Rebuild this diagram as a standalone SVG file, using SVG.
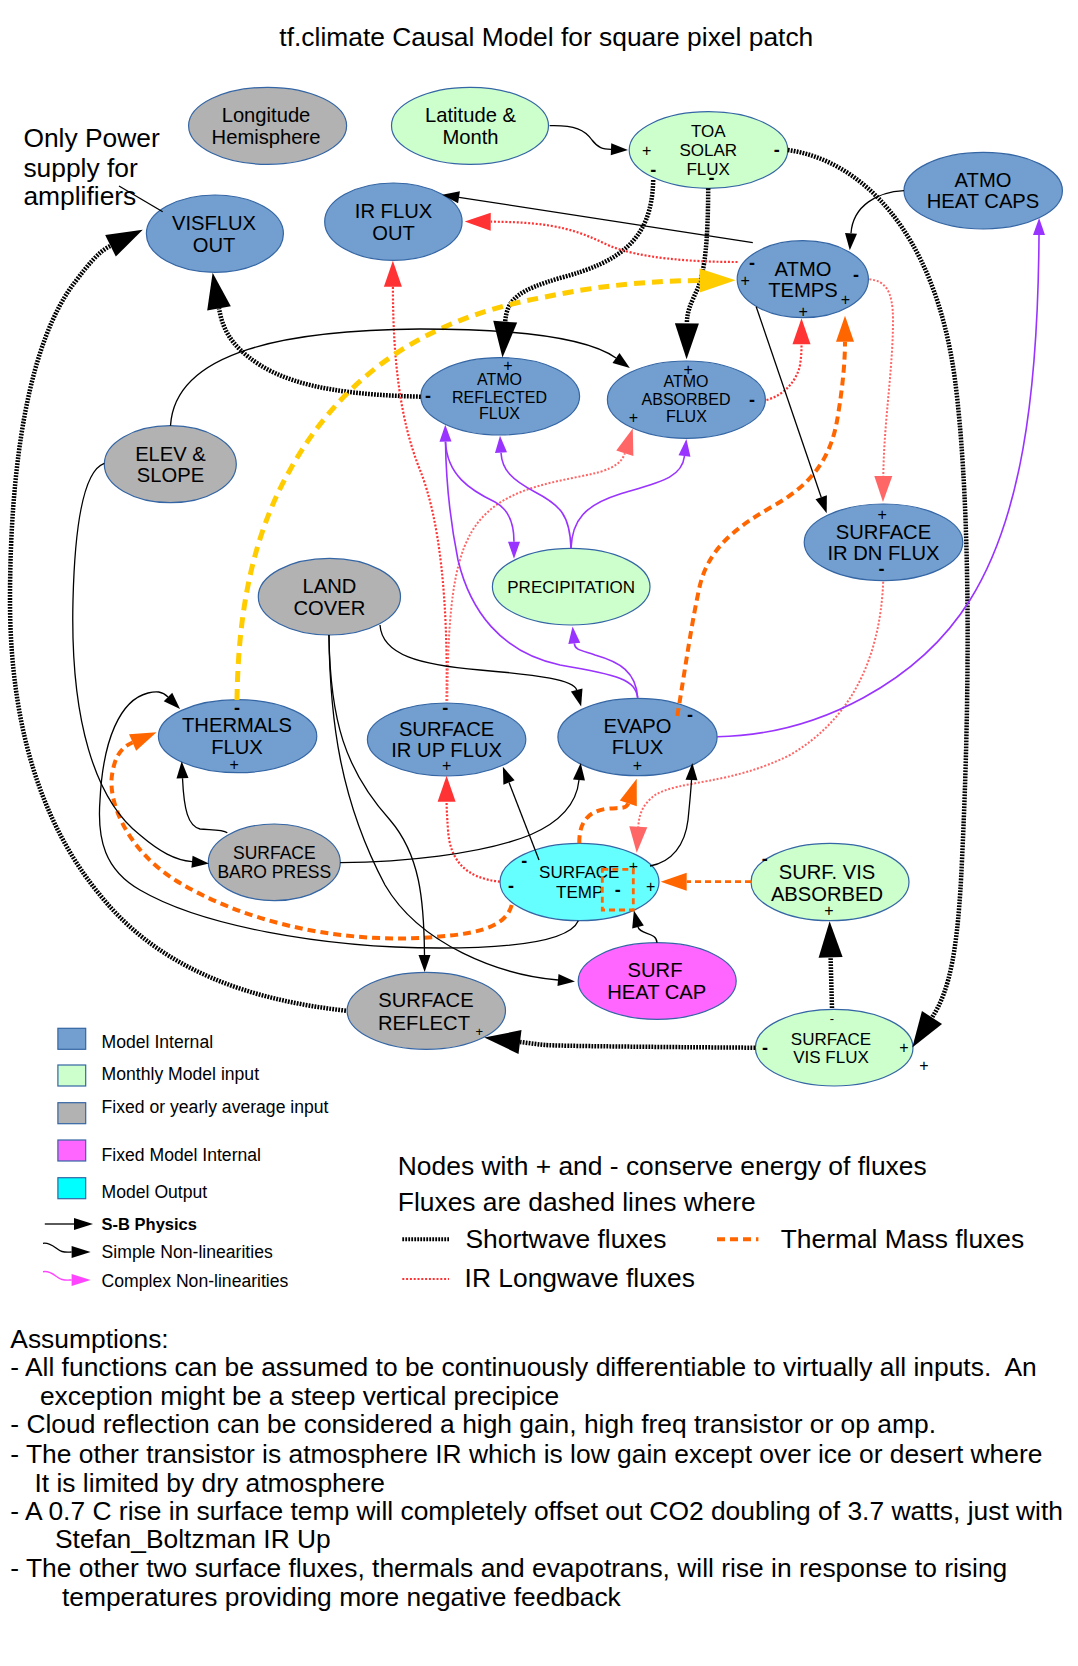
<svg xmlns="http://www.w3.org/2000/svg" width="1078" height="1666" viewBox="0 0 1078 1666">
<style>
text{font-family:"Liberation Sans",Arial,sans-serif;fill:#000}
.n20{font-size:20.2px;text-anchor:middle}
.n17{font-size:17px;text-anchor:middle}
.n16{font-size:16px;text-anchor:middle}
.p{font-size:16px;text-anchor:middle}
.ps{font-size:13px;text-anchor:middle}
.m{font-size:18px;font-weight:bold;text-anchor:middle}
.blue{fill:#729fcf;stroke:#3465a4;stroke-width:1.2}
.green{fill:#ccffcc;stroke:#3465a4;stroke-width:1.2}
.gray{fill:#b2b2b2;stroke:#3465a4;stroke-width:1.2}
.mag{fill:#ff66ff;stroke:#3465a4;stroke-width:1.2}
.cyan{fill:#66ffff;stroke:#3465a4;stroke-width:1.2}
.sw{fill:none;stroke:#000;stroke-width:4.5;stroke-dasharray:1.8 1.2}
.ir{fill:none;stroke:#ff3333;stroke-width:2.2;stroke-dasharray:2 1.8}
.irl{fill:none;stroke:#ff6666;stroke-width:2;stroke-dasharray:2 1.8}
.tm{fill:none;stroke:#ff6600;stroke-width:4;stroke-dasharray:8 5}
.tm2{fill:none;stroke:#ff6600;stroke-width:2.8;stroke-dasharray:6 4}
.yl{fill:none;stroke:#ffcc00;stroke-width:5;stroke-dasharray:11 7}
.sb{fill:none;stroke:#000;stroke-width:1.3}
.pu{fill:none;stroke:#9933ff;stroke-width:1.6}
.mg{fill:none;stroke:#ff44ff;stroke-width:1.4}
.big{font-size:26.4px}
.leg{font-size:17.6px}
</style>
<defs>
<marker id="mSw" markerUnits="userSpaceOnUse" markerWidth="36" markerHeight="24" refX="0" refY="12" orient="auto" overflow="visible"><path d="M0,0 L36,12 L0,24 z" fill="#000"/></marker>
<marker id="mRed" markerUnits="userSpaceOnUse" markerWidth="26" markerHeight="18" refX="0" refY="9" orient="auto" overflow="visible"><path d="M0,0 L26,9 L0,18 z" fill="#ff3333"/></marker>
<marker id="mSal" markerUnits="userSpaceOnUse" markerWidth="26" markerHeight="18" refX="0" refY="9" orient="auto" overflow="visible"><path d="M0,0 L26,9 L0,18 z" fill="#ff6666"/></marker>
<marker id="mOr" markerUnits="userSpaceOnUse" markerWidth="26" markerHeight="18" refX="0" refY="9" orient="auto" overflow="visible"><path d="M0,0 L26,9 L0,18 z" fill="#ff6600"/></marker>
<marker id="mYel" markerUnits="userSpaceOnUse" markerWidth="36" markerHeight="24" refX="0" refY="12" orient="auto" overflow="visible"><path d="M0,0 L36,12 L0,24 z" fill="#ffcc00"/></marker>
<marker id="mBlk" markerUnits="userSpaceOnUse" markerWidth="17" markerHeight="12" refX="0" refY="6" orient="auto" overflow="visible"><path d="M0,0 L17,6 L0,12 z" fill="#000"/></marker>
<marker id="mPur" markerUnits="userSpaceOnUse" markerWidth="17" markerHeight="12" refX="0" refY="6" orient="auto" overflow="visible"><path d="M0,0 L17,6 L0,12 z" fill="#9933ff"/></marker>
<marker id="mBlkL" markerUnits="userSpaceOnUse" markerWidth="19" markerHeight="12" refX="0" refY="6" orient="auto" overflow="visible"><path d="M0,0 L19,6 L0,12 z" fill="#000"/></marker>
<marker id="mMag" markerUnits="userSpaceOnUse" markerWidth="19" markerHeight="12" refX="0" refY="6" orient="auto" overflow="visible"><path d="M0,0 L19,6 L0,12 z" fill="#ff44ff"/></marker>
</defs>
<rect width="1078" height="1666" fill="#fff"/>
<text class="big" x="546.3" y="46" text-anchor="middle">tf.climate Causal Model for square pixel patch</text>
<g id="note-power">
<text class="big" x="23.4" y="147.3">Only Power</text>
<text class="big" x="23.4" y="176.7">supply for</text>
<text class="big" x="23.4" y="205">amplifiers</text>
</g>

<g id="n-longitude"><ellipse class="gray" cx="267.6" cy="125.8" rx="79" ry="38.5"/><text class="n20" x="266" y="121.7">Longitude</text><text class="n20" x="266" y="144.3">Hemisphere</text></g>
<g id="n-latitude"><ellipse class="green" cx="470" cy="125.8" rx="78.5" ry="38.5"/><text class="n20" x="470.5" y="121.7">Latitude &amp;</text><text class="n20" x="470.5" y="144.3">Month</text></g>
<g id="n-toa"><ellipse class="green" cx="708.5" cy="150" rx="79.3" ry="38.3"/><text class="n17" x="708.2" y="137">TOA</text><text class="n17" x="708.2" y="156">SOLAR</text><text class="n17" x="708.2" y="175">FLUX</text>
<text class="p" x="646.7" y="155.5">+</text><text class="m" x="776.8" y="156">-</text><text class="m" x="653.2" y="175.5">-</text><text class="m" x="711.6" y="183.8">-</text></g>
<g id="n-atmo-heat-caps"><ellipse class="blue" cx="983.2" cy="190.7" rx="79.2" ry="38.3"/><text class="n20" x="983" y="186.5">ATMO</text><text class="n20" x="983" y="208">HEAT CAPS</text></g>
<g id="n-visflux-out"><ellipse class="blue" cx="214.9" cy="233.7" rx="68.5" ry="38.7"/><text class="n20" x="214" y="229.5">VISFLUX</text><text class="n20" x="214" y="251.5">OUT</text></g>
<g id="n-ir-flux-out"><ellipse class="blue" cx="393.4" cy="221.7" rx="68.7" ry="38.7"/><text class="n20" x="393.5" y="218">IR FLUX</text><text class="n20" x="393.5" y="240">OUT</text></g>
<g id="n-atmo-temps"><ellipse class="blue" cx="802.8" cy="279.2" rx="65.6" ry="38.5"/><text class="n20" x="803" y="275.5">ATMO</text><text class="n20" x="803" y="297">TEMPS</text>
<text class="m" x="752" y="268.7">-</text><text class="p" x="745.2" y="285.5">+</text><text class="m" x="856" y="281">-</text><text class="p" x="845.5" y="305">+</text><text class="p" x="803.2" y="317.2">+</text></g>
<g id="n-atmo-reflected"><ellipse class="blue" cx="500.2" cy="396.3" rx="79.4" ry="38.7"/><text class="n16" x="499.5" y="384.5">ATMO</text><text class="n16" x="499.5" y="402.5">REFLECTED</text><text class="n16" x="499.5" y="419">FLUX</text>
<text class="p" x="508" y="370.5">+</text><text class="m" x="428" y="402.1">-</text></g>
<g id="n-atmo-absorbed"><ellipse class="blue" cx="686.4" cy="399.7" rx="79" ry="38.7"/><text class="n16" x="686" y="387">ATMO</text><text class="n16" x="686" y="404.5">ABSORBED</text><text class="n16" x="686.4" y="422">FLUX</text>
<text class="p" x="688.2" y="374.8">+</text><text class="p" x="633.3" y="423.2">+</text><text class="m" x="752" y="406.1">-</text></g>
<g id="n-elev-slope"><ellipse class="gray" cx="170.3" cy="464.2" rx="66" ry="38.5"/><text class="n20" x="170.5" y="460.5">ELEV &amp;</text><text class="n20" x="170.5" y="482">SLOPE</text></g>
<g id="n-surface-ir-dn"><ellipse class="blue" cx="883.5" cy="542.3" rx="79.3" ry="38.3"/><text class="n20" x="883.5" y="539">SURFACE</text><text class="n20" x="883.5" y="560">IR DN FLUX</text>
<text class="p" x="882.2" y="519.8">+</text><text class="m" x="881.5" y="575.4">-</text></g>
<g id="n-precipitation"><ellipse class="green" cx="571.2" cy="586.7" rx="78.8" ry="38.3"/><text class="n17" x="571.2" y="593.3">PRECIPITATION</text></g>
<g id="n-land-cover"><ellipse class="gray" cx="329.4" cy="596.7" rx="71.1" ry="38.3"/><text class="n20" x="329.4" y="593">LAND</text><text class="n20" x="329.4" y="615">COVER</text></g>
<g id="n-thermals"><ellipse class="blue" cx="237.6" cy="736.2" rx="79.2" ry="36.5"/><text class="n20" x="237" y="731.5">THERMALS</text><text class="n20" x="237" y="754">FLUX</text>
<text class="m" x="237" y="713.7">-</text><text class="p" x="234.2" y="769.5">+</text></g>
<g id="n-surface-ir-up"><ellipse class="blue" cx="446.6" cy="739.5" rx="79.2" ry="36.5"/><text class="n20" x="446.6" y="735.5">SURFACE</text><text class="n20" x="446.6" y="757">IR UP FLUX</text>
<text class="m" x="445.2" y="713.7">-</text><text class="p" x="446.6" y="771.2">+</text></g>
<g id="n-evapo"><ellipse class="blue" cx="637.5" cy="737" rx="79.6" ry="38.7"/><text class="n20" x="637.5" y="733">EVAPO</text><text class="n20" x="637.5" y="754">FLUX</text>
<text class="m" x="690" y="721.4">-</text><text class="p" x="637.5" y="770.5">+</text></g>
<g id="n-baro"><ellipse class="gray" cx="274.3" cy="862.3" rx="66" ry="38.3"/><text class="n17" x="274.3" y="859" style="font-size:17.5px">SURFACE</text><text class="n17" x="274.3" y="878" style="font-size:17.5px">BARO PRESS</text></g>
<g id="n-surface-temp"><ellipse class="cyan" cx="579.5" cy="882" rx="79.5" ry="38.7"/><text class="n17" x="579.2" y="877.7">SURFACE</text><text class="n17" x="579.7" y="898.3">TEMP</text>
<text class="m" x="524.3" y="867.1">-</text><text class="m" x="511" y="892.1">-</text><text class="p" x="633.3" y="871.5">+</text><text class="m" x="617.7" y="896.1">-</text><text class="p" x="650.7" y="892.2">+</text></g>
<g id="n-surf-vis-absorbed"><ellipse class="green" cx="830" cy="882" rx="79" ry="38.7"/><text class="n20" x="827" y="878.5">SURF. VIS</text><text class="n20" x="827" y="900.5">ABSORBED</text>
<text class="m" x="764.8" y="865.4">-</text><text class="p" x="828.8" y="916.2">+</text></g>
<g id="n-surf-heat-cap"><ellipse class="mag" cx="657.2" cy="981" rx="79" ry="38.3"/><text class="n20" x="655" y="976.5">SURF</text><text class="n20" x="656.7" y="999">HEAT CAP</text></g>
<g id="n-surface-reflect"><ellipse class="gray" cx="426.3" cy="1010.8" rx="79.2" ry="38.5"/><text class="n20" x="426" y="1006.5">SURFACE</text><text class="n20" x="424" y="1030">REFLECT</text>
<text class="ps" x="479.3" y="1036.2">+</text></g>
<g id="n-surface-vis-flux"><ellipse class="green" cx="834.2" cy="1047.7" rx="78.8" ry="38.3"/><text class="n17" x="831" y="1044.5">SURFACE</text><text class="n17" x="831" y="1063">VIS FLUX</text>
<text class="ps" x="832" y="1022.5">-</text><text class="m" x="765.1" y="1053.7">-</text><text class="p" x="904" y="1053.2">+</text><text class="p" x="924" y="1070.5">+</text></g>

<g id="connectors">
<path class="sw" d="M787.8,150 C860,160 935,230 955,380 C968,480 972,650 962,860 C958,950 950,990 932,1017.5" marker-end="url(#mSw)"/>
<path class="sw" d="M653.2,180 C652,240 620,262 560,278 C520,290 507,298 505.2,321.7" marker-end="url(#mSw)"/>
<path class="sw" d="M708.2,188.3 C708,240 705,270 698,288 C690,305 687,312 686.9,323.3" marker-end="url(#mSw)"/>
<path class="sw" d="M420.8,396.7 C360,395 300,390 260,365 C228,345 222,325 219,308.3" marker-end="url(#mSw)"/>
<path class="sw" d="M346,1010.7 C250,1000 160,970 100,895 C30,810 10,700 10,600 C10,460 30,340 75,282 C88,265 98,252 110.5,245.8" marker-end="url(#mSw)"/>
<path class="sw" d="M755.3,1047.7 C650,1047 560,1046 545,1045 C535,1044 528,1043 520,1042" marker-end="url(#mSw)"/>
<path class="sw" d="M832,1008 L830.6,957.3" marker-end="url(#mSw)"/>
<path class="ir" d="M737.5,262 C690,262 640,258 610,246 C580,232 560,222 490.7,221.7" marker-end="url(#mRed)"/>
<path class="ir" d="M446.6,701 C448,600 440,520 420,470 C400,420 393,360 392.9,286.7" marker-end="url(#mRed)"/>
<path class="ir" d="M500,881.7 C465,878 450,860 448,830 C447,815 446.6,808 446.6,801.7" marker-end="url(#mRed)"/>
<path class="ir" d="M766.5,400 C785,395 797,380 800,365 C801.5,355 801.5,350 801.5,344.3" marker-end="url(#mRed)"/>
<path class="irl" d="M869.3,279.3 C885,281 893,290 893,320 C893,370 884,420 883.3,476" marker-end="url(#mSal)"/>
<path class="irl" d="M883.2,581.7 C880,660 850,720 790,755 C730,785 680,780 655,795 C642,805 639,815 638.3,826.7" marker-end="url(#mSal)"/>
<path class="irl" d="M447.3,701 C448,600 455,550 480,520 C510,485 560,482 600,472 C615,467 622,462 624.8,453.3" marker-end="url(#mSal)"/>
<path class="tm" d="M677.3,716 C685,670 692,620 700,585 C710,545 740,525 775,505 C815,482 832,455 838,415 C843,385 845,360 845,341.7" marker-end="url(#mOr)"/>
<path class="tm" d="M579.3,843.3 C579,822 588,812 605,809 C618,807 626,810 628.3,803.3" marker-end="url(#mOr)"/>
<path class="tm2" d="M751,881.7 L686.7,881.7" marker-end="url(#mOr)"/>
<path class="tm" d="M511.7,905 C505,930 470,935 420,938 C330,942 240,920 175,880 C125,848 108,800 112,775 C115,755 122,747 132.6,742.5" marker-end="url(#mOr)"/>
<rect class="tm2" x="602.3" y="869.3" width="31" height="40.7"/>
<path class="yl" d="M237,700 C238,620 250,540 290,470 C340,380 420,320 540,298 C600,285 650,281 699.6,280.5" marker-end="url(#mYel)"/>
<path class="sb" d="M549.6,125.7 C575,125 585,130 592,140 C598,148 603,149 611,149.3" marker-end="url(#mBlk)"/>
<path class="sb" d="M119,186 L162.7,211.7"/>
<path class="sb" d="M752.8,242.7 L459,197.3" marker-end="url(#mBlk)"/>
<path class="sb" d="M904,190.7 C878,192 853,205 851,233.3" marker-end="url(#mBlk)"/>
<path class="sb" d="M756.2,306.7 L821.2,497.2" marker-end="url(#mBlk)"/>
<path class="sb" d="M170.5,425.7 C175,350 290,330 420,329 C520,329 588,338 616,358" marker-end="url(#mBlk)"/>
<path class="sb" d="M104.3,463.3 C85,470 75,520 73,600 C70,720 95,800 140,835 C160,852 175,860 192,861.7" marker-end="url(#mBlk)"/>
<path class="sb" d="M578.3,920.7 C570,940 520,948 440,948 C320,948 200,925 140,890 C105,870 97,840 100,800 C103,740 120,700 148,693 C156,691 162,691 168,697" marker-end="url(#mBlk)"/>
<path class="sb" d="M227.3,832.7 C222,829 210,830 200,829 C188,826 184,810 182.5,778.3" marker-end="url(#mBlk)"/>
<path class="sb" d="M340.2,862.7 C400,862 480,855 530,835 C565,820 577,800 579,780" marker-end="url(#mBlk)"/>
<path class="sb" d="M380,625 C382,655 420,665 480,670 C540,675 574,680 576.7,690" marker-end="url(#mBlk)"/>
<path class="sb" d="M328.9,635 C330,720 340,800 385,885 C420,945 500,975 558,980" marker-end="url(#mBlk)"/>
<path class="sb" d="M329,635 C330,720 345,770 390,820 C420,855 424,900 424.5,955" marker-end="url(#mBlk)"/>
<path class="sb" d="M539,860 L509,782.5" marker-end="url(#mBlk)"/>
<path class="sb" d="M650,866 C672,862 685,845 688,820 C690,800 691,790 691.5,780" marker-end="url(#mBlk)"/>
<path class="sb" d="M657,942.7 C657,932 640,935 638,927" marker-end="url(#mBlk)"/>
<path class="pu" d="M637.7,697.7 C635,680 620,675 560,665 C500,652 470,610 458,560 C450,520 446,480 445.5,441.7" marker-end="url(#mPur)"/>
<path class="pu" d="M445.5,441.7 C447,475 470,490 495,502 C510,510 514,525 514,541.7" marker-end="url(#mPur)"/>
<path class="pu" d="M571,548.3 C570,515 560,505 535,492 C512,480 502,470 501,452.7" marker-end="url(#mPur)"/>
<path class="pu" d="M571,548.3 C572,520 585,505 620,494 C660,482 682,478 684.5,456" marker-end="url(#mPur)"/>
<path class="pu" d="M637.7,697.7 C636,672 620,662 595,655 C580,650 575,650 574.3,643.3" marker-end="url(#mPur)"/>
<path class="pu" d="M717.1,736.7 C820,735 920,680 970,600 C1020,520 1038,400 1039,235" marker-end="url(#mPur)"/>
</g>

<g id="legend">
<rect class="blue" x="57.9" y="1028.3" width="27.8" height="21"/>
<rect class="green" x="57.9" y="1065" width="27.8" height="21"/>
<rect class="gray" x="57.9" y="1102.7" width="27.8" height="21"/>
<rect x="57.9" y="1140" width="27.8" height="21" fill="#ff66ff" stroke="#3465a4" stroke-width="1.2"/>
<rect x="57.9" y="1177.7" width="27.8" height="21" fill="#00ffff" stroke="#3465a4" stroke-width="1.2"/>
<text class="leg" x="101.6" y="1048">Model Internal</text>
<text class="leg" x="101.6" y="1080">Monthly Model input</text>
<text class="leg" x="101.6" y="1113.3">Fixed or yearly average input</text>
<text class="leg" x="101.6" y="1161">Fixed Model Internal</text>
<text class="leg" x="101.6" y="1198.3">Model Output</text>
<path class="sb" d="M44.8,1224 L74,1224" marker-end="url(#mBlkL)"/>
<text class="leg" x="101.6" y="1230" style="font-weight:bold;font-size:16.5px">S-B Physics</text>
<path class="sb" d="M43,1243.3 C52,1242 56,1250 62,1251.5 C66,1252.5 69,1252 71.6,1252" marker-end="url(#mBlkL)"/>
<text class="leg" x="101.6" y="1258.3">Simple Non-linearities</text>
<path class="mg" d="M43,1271.7 C52,1270 56,1278 62,1279.5 C66,1280.5 69,1280 71.6,1280" marker-end="url(#mMag)"/>
<text class="leg" x="101.6" y="1286.7">Complex Non-linearities</text>
<text class="big" x="397.8" y="1175">Nodes with + and - conserve energy of fluxes</text>
<text class="big" x="397.8" y="1211">Fluxes are dashed lines where</text>
<path class="sw" d="M402.3,1239.3 L449,1239.3" style="stroke-width:4"/>
<text class="big" x="465.5" y="1247.7">Shortwave fluxes</text>
<path class="tm" d="M717,1239.3 L758.4,1239.3"/>
<text class="big" x="780.7" y="1247.7">Thermal Mass fluxes</text>
<path class="ir" d="M402.3,1279 L449,1279"/>
<text class="big" x="464.6" y="1287.3">IR Longwave fluxes</text>
</g>

<g id="assumptions">
<text class="big" x="10.3" y="1348.3">Assumptions:</text>
<text class="big" x="10.3" y="1376">- All functions can be assumed to be continuously differentiable to virtually all inputs.&#160; An</text>
<text class="big" x="39.9" y="1405">exception might be a steep vertical precipice</text>
<text class="big" x="10.3" y="1433.3">- Cloud reflection can be considered a high gain, high freq transistor or op amp.</text>
<text class="big" x="10.3" y="1462.7">- The other transistor is atmosphere IR which is low gain except over ice or desert where</text>
<text class="big" x="34.4" y="1491.7">It is limited by dry atmosphere</text>
<text class="big" x="10.3" y="1520">- A 0.7 C rise in surface temp will completely offset out CO2 doubling of 3.7 watts, just with</text>
<text class="big" x="55" y="1548.3">Stefan_Boltzman IR Up</text>
<text class="big" x="10.3" y="1577.3">- The other two surface fluxes, thermals and evapotrans, will rise in response to rising</text>
<text class="big" x="61.9" y="1606">temperatures providing more negative feedback</text>
</g>
</svg>
